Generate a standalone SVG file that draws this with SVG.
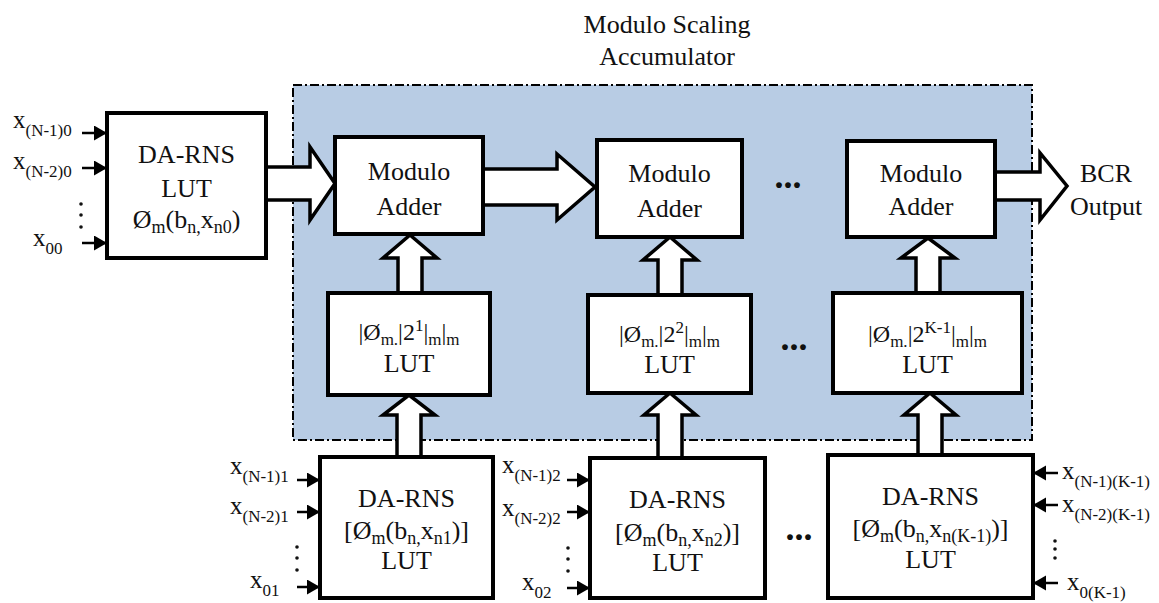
<svg xmlns="http://www.w3.org/2000/svg" width="1159" height="603" viewBox="0 0 1159 603" font-family="'Liberation Serif', 'DejaVu Serif', serif">
<defs>
<style>
text{font-family:'Liberation Serif','DejaVu Serif',serif;}
.t{fill:#111;}
.m{font-size:26px;text-anchor:middle;}
.f{font-size:24px;text-anchor:middle;}
.lb{font-size:25px;}
.box{fill:#fff;stroke:#000;stroke-width:4;}
.fat{fill:#fff;stroke:#000;stroke-width:3.5;stroke-linejoin:miter;}
.in{stroke:#000;stroke-width:2.5;fill:none;}
.dot{fill:#111;}
.el{font-size:36px;font-weight:bold;text-anchor:middle;}
</style>
<marker id="ah" markerUnits="userSpaceOnUse" markerWidth="14" markerHeight="16" refX="13" refY="7.5" orient="auto">
<path d="M0,0 L13,7.5 L0,15 z" fill="#000"/>
</marker>
</defs>
<rect width="1159" height="603" fill="#fff"/>
<g id="region">
<rect x="293" y="85" width="739" height="355" fill="#b8cce4" stroke="#000" stroke-width="2" stroke-dasharray="9 3 2 3"/>
<text class="t m" x="667" y="33" font-size="28">Modulo Scaling</text>
<text class="t m" x="667" y="65" font-size="28">Accumulator</text>
</g>
<g id="connectors">
<path class="fat" d="M266,167 H310 V147 L335,183.5 L310,220 V200 H266"/>
<path class="fat" d="M483,169 H557 V154 L595,187 L557,220 V205 H483"/>
<path class="fat" d="M995,172 H1040 V153 L1067,186 L1040,220 V200 H995"/>
<path class="fat" d="M398,293 V258 H383 L410,235 L437,258 H422 V293"/>
<path class="fat" d="M658,295 V260 H643 L670,237 L697,260 H682 V295"/>
<path class="fat" d="M916,293 V258 H901 L928,238 L955,258 H940 V293"/>
<path class="fat" d="M397,457 V415 H383 L409,395 L435,415 H421 V457"/>
<path class="fat" d="M658,458 V415 H644 L670,393 L696,415 H682 V458"/>
<path class="fat" d="M918,455 V415 H904 L930,393 L956,415 H942 V455"/>
<line class="in" x1="82" y1="133" x2="107" y2="133" marker-end="url(#ah)"/>
<line class="in" x1="82" y1="168" x2="107" y2="168" marker-end="url(#ah)"/>
<line class="in" x1="82" y1="243" x2="107" y2="243" marker-end="url(#ah)"/>
<line class="in" x1="297" y1="480" x2="320" y2="480" marker-end="url(#ah)"/>
<line class="in" x1="297" y1="512" x2="320" y2="512" marker-end="url(#ah)"/>
<line class="in" x1="297" y1="587" x2="320" y2="587" marker-end="url(#ah)"/>
<line class="in" x1="567" y1="480" x2="590" y2="480" marker-end="url(#ah)"/>
<line class="in" x1="567" y1="512" x2="590" y2="512" marker-end="url(#ah)"/>
<line class="in" x1="567" y1="588" x2="590" y2="588" marker-end="url(#ah)"/>
<line class="in" x1="1058" y1="473" x2="1033" y2="473" marker-end="url(#ah)"/>
<line class="in" x1="1058" y1="505" x2="1033" y2="505" marker-end="url(#ah)"/>
<line class="in" x1="1058" y1="583" x2="1033" y2="583" marker-end="url(#ah)"/>
</g>
<g id="da-rns-0">
<rect class="box" x="107" y="113" width="159" height="145"/>
<text class="t m" x="186.5" y="163">DA-RNS</text>
<text class="t m" x="186.5" y="197">LUT</text>
<text class="t m" x="186.5" y="228">Ø<tspan font-size="18" dy="5">m</tspan><tspan dy="-5">(b</tspan><tspan font-size="18" dy="5">n,</tspan><tspan dy="-5">x</tspan><tspan font-size="18" dy="5">n0</tspan><tspan dy="-5">)</tspan></text>
</g>
<g id="inputs-0">
<text class="t lb" x="13" y="128">x<tspan font-size="17" dy="8">(N-1)0</tspan></text>
<text class="t lb" x="13" y="169">x<tspan font-size="17" dy="8">(N-2)0</tspan></text>
<text class="t lb" x="33" y="246">x<tspan font-size="17" dy="8">00</tspan></text>
<circle class="dot" cx="81" cy="204" r="1.8"/><circle class="dot" cx="81" cy="215" r="1.8"/><circle class="dot" cx="81" cy="227" r="1.8"/>
</g>
<g id="adder-1">
<rect class="box" x="335" y="137" width="148" height="97"/>
<text class="t m" x="409" y="180">Modulo</text>
<text class="t m" x="409" y="215">Adder</text>
</g>
<g id="adder-2">
<rect class="box" x="597" y="140" width="145" height="97"/>
<text class="t m" x="669.5" y="182">Modulo</text>
<text class="t m" x="669.5" y="217">Adder</text>
</g>
<g id="adder-3">
<rect class="box" x="847" y="141" width="148" height="96"/>
<text class="t m" x="921" y="182">Modulo</text>
<text class="t m" x="921" y="215">Adder</text>
</g>
<g id="output">
<text class="t m" x="1106" y="182">BCR</text>
<text class="t m" x="1106" y="215">Output</text>
</g>
<g id="lut-1">
<rect class="box" x="328" y="293" width="162" height="102"/>
<text class="t f" x="409" y="340">|Ø<tspan font-size="17" dy="5">m.</tspan><tspan dy="-5">|2</tspan><tspan font-size="17" dy="-9">1</tspan><tspan dy="9">|</tspan><tspan font-size="17" dy="5">m</tspan><tspan dy="-5">|</tspan><tspan font-size="17" dy="5">m</tspan></text>
<text class="t m" x="409" y="372">LUT</text>
</g>
<g id="lut-2">
<rect class="box" x="588" y="295" width="163" height="98"/>
<text class="t f" x="669.5" y="342">|Ø<tspan font-size="17" dy="5">m.</tspan><tspan dy="-5">|2</tspan><tspan font-size="17" dy="-9">2</tspan><tspan dy="9">|</tspan><tspan font-size="17" dy="5">m</tspan><tspan dy="-5">|</tspan><tspan font-size="17" dy="5">m</tspan></text>
<text class="t m" x="669.5" y="373">LUT</text>
</g>
<g id="lut-3">
<rect class="box" x="833" y="293" width="189" height="100"/>
<text class="t f" x="927.5" y="342">|Ø<tspan font-size="17" dy="5">m.</tspan><tspan dy="-5">|2</tspan><tspan font-size="17" dy="-9">K-1</tspan><tspan dy="9">|</tspan><tspan font-size="17" dy="5">m</tspan><tspan dy="-5">|</tspan><tspan font-size="17" dy="5">m</tspan></text>
<text class="t m" x="927.5" y="373">LUT</text>
</g>
<g id="da-rns-1">
<rect class="box" x="320" y="457" width="173" height="141"/>
<text class="t m" x="406.5" y="507">DA-RNS</text>
<text class="t m" x="406.5" y="539">[Ø<tspan font-size="18" dy="5">m</tspan><tspan dy="-5">(b</tspan><tspan font-size="18" dy="5">n,</tspan><tspan dy="-5">x</tspan><tspan font-size="18" dy="5">n1</tspan><tspan dy="-5">)]</tspan></text>
<text class="t m" x="406.5" y="569">LUT</text>
<text class="t lb" x="230" y="474">x<tspan font-size="17" dy="8">(N-1)1</tspan></text>
<text class="t lb" x="230" y="514">x<tspan font-size="17" dy="8">(N-2)1</tspan></text>
<text class="t lb" x="250" y="588">x<tspan font-size="17" dy="8">01</tspan></text>
<circle class="dot" cx="297" cy="547" r="1.8"/><circle class="dot" cx="297" cy="558" r="1.8"/><circle class="dot" cx="297" cy="570" r="1.8"/>
</g>
<g id="da-rns-2">
<rect class="box" x="590" y="458" width="175" height="140"/>
<text class="t m" x="677.5" y="508">DA-RNS</text>
<text class="t m" x="677.5" y="541">[Ø<tspan font-size="18" dy="5">m</tspan><tspan dy="-5">(b</tspan><tspan font-size="18" dy="5">n,</tspan><tspan dy="-5">x</tspan><tspan font-size="18" dy="5">n2</tspan><tspan dy="-5">)]</tspan></text>
<text class="t m" x="677.5" y="571">LUT</text>
<text class="t lb" x="502" y="473">x<tspan font-size="17" dy="8">(N-1)2</tspan></text>
<text class="t lb" x="502" y="516">x<tspan font-size="17" dy="8">(N-2)2</tspan></text>
<text class="t lb" x="522" y="590">x<tspan font-size="17" dy="8">02</tspan></text>
<circle class="dot" cx="568" cy="548" r="1.8"/><circle class="dot" cx="568" cy="559" r="1.8"/><circle class="dot" cx="568" cy="571" r="1.8"/>
</g>
<g id="da-rns-3">
<rect class="box" x="828" y="455" width="205" height="143"/>
<text class="t m" x="930.5" y="505">DA-RNS</text>
<text class="t m" x="930.5" y="537">[Ø<tspan font-size="18" dy="5">m</tspan><tspan dy="-5">(b</tspan><tspan font-size="18" dy="5">n,</tspan><tspan dy="-5">x</tspan><tspan font-size="18" dy="5">n(K-1)</tspan><tspan dy="-5">)]</tspan></text>
<text class="t m" x="930.5" y="568">LUT</text>
<text class="t lb" x="1062" y="479">x<tspan font-size="17" dy="8">(N-1)(K-1)</tspan></text>
<text class="t lb" x="1062" y="512">x<tspan font-size="17" dy="8">(N-2)(K-1)</tspan></text>
<text class="t lb" x="1067" y="590">x<tspan font-size="17" dy="8">0(K-1)</tspan></text>
<circle class="dot" cx="1055" cy="541" r="1.8"/><circle class="dot" cx="1055" cy="549" r="1.8"/><circle class="dot" cx="1055" cy="558" r="1.8"/>
</g>
<g id="ellipses">
<text class="t el" x="788" y="188">...</text>
<text class="t el" x="794" y="350">...</text>
<text class="t el" x="799" y="540">...</text>
</g>
</svg>
